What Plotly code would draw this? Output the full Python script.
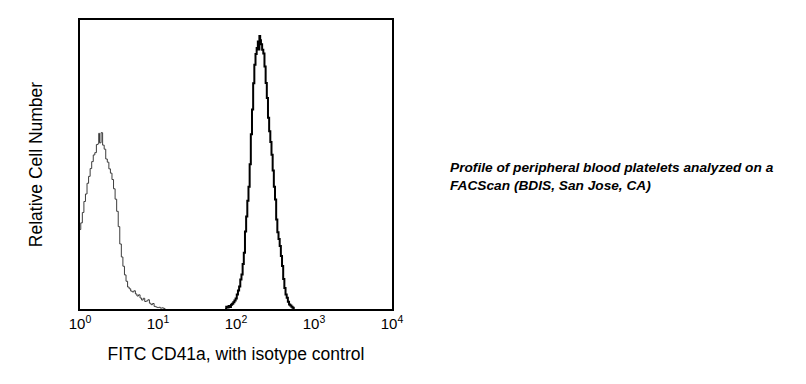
import plotly.graph_objects as go

# Fluorescence channel positions (in decades, log10 of FITC intensity) and relative cell counts
iso_log = [0.000, 0.010, 0.030, 0.050, 0.070, 0.090, 0.110, 0.130, 0.150, 0.170,
           0.190, 0.210, 0.230, 0.240, 0.250, 0.270, 0.290, 0.310, 0.330, 0.350,
           0.370, 0.390, 0.410, 0.430, 0.450, 0.470, 0.490, 0.510, 0.530, 0.550,
           0.570, 0.590, 0.610, 0.630, 0.650, 0.670, 0.690, 0.710, 0.730, 0.750,
           0.770, 0.790, 0.810, 0.830, 0.850, 0.870, 0.890, 0.910, 0.930, 0.950,
           0.970, 0.990, 1.010, 1.030, 1.050, 1.070, 1.090]
iso_count = [27.5, 29.8, 33.4, 37.2, 39.8, 43.5, 45.9, 48.6, 51.0, 53.3,
             54.1, 56.9, 57.2, 60.8, 57.5, 61.0, 56.7, 55.3, 51.9, 50.8,
             48.5, 47.0, 44.8, 41.6, 38.0, 33.8, 28.5, 22.5, 18.0, 14.8,
             11.8, 9.6, 7.6, 7.0, 6.2, 5.9, 6.3, 5.2, 4.5, 4.9,
             3.8, 3.1, 3.7, 2.6, 2.8, 3.2, 2.0, 1.5, 1.9, 0.9,
             0.7, 0.5, 0.6, 0.3, 0.4, 0.2, 0.0]

cd41_log = [1.860, 1.875, 1.890, 1.905, 1.920, 1.935, 1.950, 1.965, 1.980, 1.995,
            2.010, 2.025, 2.040, 2.055, 2.070, 2.085, 2.100, 2.115, 2.130, 2.145,
            2.160, 2.175, 2.190, 2.205, 2.220, 2.235, 2.250, 2.265, 2.280, 2.290,
            2.300, 2.310, 2.320, 2.335, 2.350, 2.365, 2.380, 2.395, 2.410, 2.425,
            2.440, 2.455, 2.470, 2.485, 2.500, 2.515, 2.530, 2.545, 2.560, 2.575,
            2.590, 2.605, 2.620, 2.635, 2.650, 2.665, 2.680, 2.695, 2.710, 2.725,
            2.740]
cd41_count = [0.0, 0.8, 0.5, 1.0, 0.7, 1.5, 1.8, 2.3, 2.9, 3.6,
              5.0, 6.4, 7.8, 10.2, 11.9, 15.6, 19.5, 26.8, 32.0, 37.5,
              42.3, 50.1, 60.5, 69.0, 78.1, 84.5, 88.2, 90.3, 92.6, 89.8,
              94.5, 93.0, 91.6, 89.7, 88.4, 83.9, 78.2, 73.0, 66.2, 61.5,
              57.8, 53.4, 47.9, 42.3, 37.9, 31.0, 26.6, 24.2, 21.8, 18.3,
              14.9, 10.4, 7.3, 5.0, 3.9, 2.5, 1.6, 1.2, 0.8, 0.4,
              0.0]

tick_vals = [1, 10, 100, 1000, 10000]
tick_text = ["10<sup>0</sup>", "10<sup>1</sup>", "10<sup>2</sup>", "10<sup>3</sup>", "10<sup>4</sup>"]

x_title = "FITC CD41a, with isotype control"
y_title = "Relative Cell Number"
caption = "<b><i>Profile of peripheral blood platelets analyzed on a<br>FACScan (BDIS, San Jose, CA)</i></b>"

FONT = "Liberation Sans, Arial, sans-serif"

fig = go.Figure()
fig.add_trace(go.Scatter(
    x=[10 ** v for v in iso_log], y=iso_count, mode="lines",
    line=dict(color="#3c3c3c", width=1, shape="hv"), name="Isotype control",
))
fig.add_trace(go.Scatter(
    x=[10 ** v for v in cd41_log], y=cd41_count, mode="lines",
    line=dict(color="#000000", width=2, shape="hv"), name="FITC CD41a",
))

fig.update_layout(
    width=806, height=384,
    margin=dict(l=80, r=414, t=20, b=75),
    paper_bgcolor="white", plot_bgcolor="white",
    showlegend=False,
    font=dict(family=FONT, color="black"),
    xaxis=dict(
        type="log", range=[0, 4],
        tickvals=tick_vals, ticktext=tick_text,
        tickfont=dict(size=15, family=FONT, color="black"),
        ticks="", showgrid=False, zeroline=False,
        showline=True, mirror=True, linecolor="black", linewidth=2,
        title=dict(text=x_title, font=dict(size=17.5, family=FONT, color="black"), standoff=17),
    ),
    yaxis=dict(
        range=[0, 100], showticklabels=False, ticks="",
        showgrid=False, zeroline=False,
        showline=True, mirror=True, linecolor="black", linewidth=2,
        title=dict(text=y_title, font=dict(size=17.5, family=FONT, color="black"), standoff=31),
    ),
    annotations=[dict(
        text=caption, xref="paper", yref="paper", x=1.18, y=0.457,
        xanchor="left", yanchor="middle", showarrow=False, align="left",
        font=dict(size=13.7, family=FONT, color="black"),
    )],
)

fig.write_html("out.html", config={"displayModeBar": False},
               post_script="document.body.style.margin='0';document.body.style.padding='0';")
